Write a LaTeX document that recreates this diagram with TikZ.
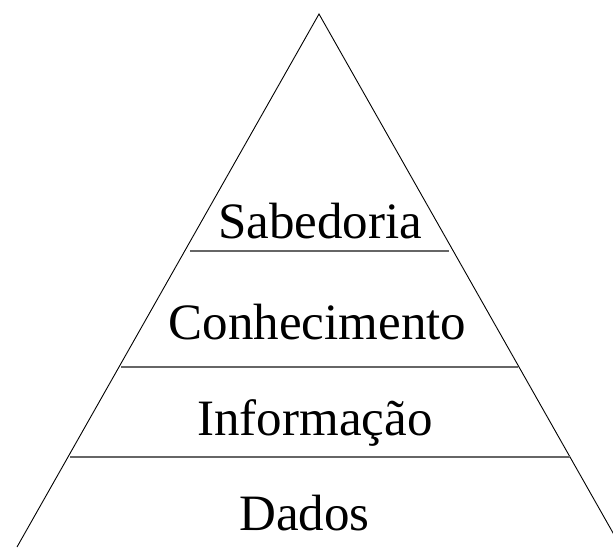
\documentclass[tikz,border=0pt]{standalone}
\usepackage{fontspec}
\setmainfont{Liberation Serif}
\begin{document}
\begin{tikzpicture}[x=1pt,y=-1pt,
  side/.style={draw=black,line width=0.9pt},
  divider/.style={draw=black!60,line width=1.3pt},
  label/.style={anchor=base,font=\fontsize{51}{55}\selectfont,inner sep=0pt}]
\useasboundingbox (0,0) rectangle (613,547);
\coordinate (apex) at (319,14);
\coordinate (bl) at (17,547);
\coordinate (br) at (621,547);
\draw[side] (bl) -- (apex) -- (br);
\coordinate (l1a) at (190,251); \coordinate (l1b) at (449,251);
\coordinate (l2a) at (121,367); \coordinate (l2b) at (518,367);
\coordinate (l3a) at (70,457);  \coordinate (l3b) at (570,457);
\draw[divider] (l1a) -- (l1b);
\draw[divider] (l2a) -- (l2b);
\draw[divider] (l3a) -- (l3b);
\node[label] (sab) at (320,238) {Sabedoria};
\node[label] (con) at (317.5,339) {Conhecimento};
\node[label] (inf) at (315,435) {Informação};
\node[label] (dad) at (304.5,530) {Dados};
\end{tikzpicture}
\end{document}
